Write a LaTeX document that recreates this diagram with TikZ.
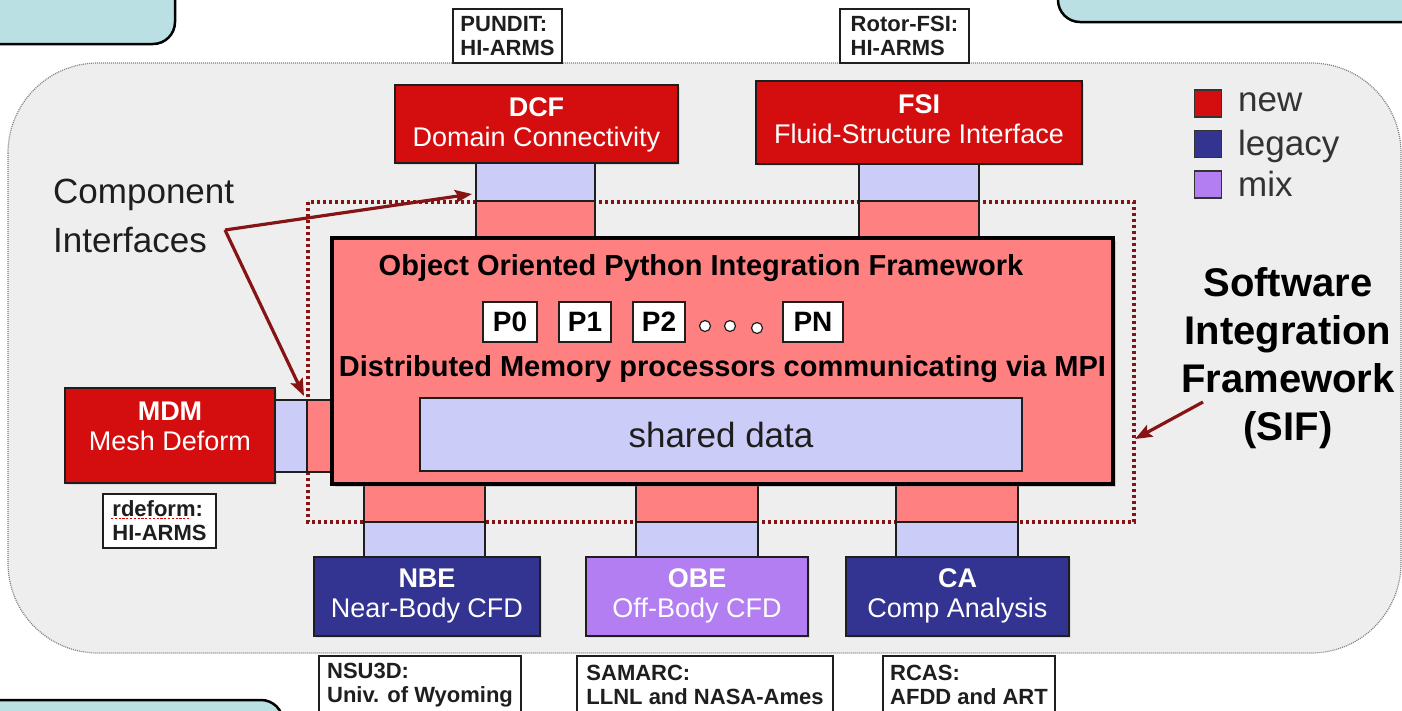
\documentclass[tikz,border=0pt]{standalone}
\usepackage{fontspec}
\setmainfont{Liberation Sans}
\usetikzlibrary{arrows.meta,shadows}

\definecolor{newred}{RGB}{212,14,14}
\definecolor{pinkif}{RGB}{255,128,128}
\definecolor{lavif}{RGB}{204,204,248}
\definecolor{legnavy}{RGB}{51,51,145}
\definecolor{mixpurple}{RGB}{178,126,242}
\definecolor{darkred}{RGB}{135,20,20}
\definecolor{panelgray}{RGB}{238,238,238}
\definecolor{notecyan}{RGB}{187,224,227}
\definecolor{inkgray}{RGB}{30,30,30}
\definecolor{softgray}{RGB}{51,51,51}

\newcommand\sz[2]{\fontsize{#1}{#2}\selectfont}

\begin{document}
\begin{tikzpicture}[x=1pt,y=-1pt,
  panel/.style={fill=panelgray, draw=gray, line width=1.2pt,
    dash pattern=on 1pt off 1pt, rounded corners=90pt},
  cornerbox/.style={fill=notecyan, draw=black, line width=2.5pt, rounded corners=22pt},
  comp/.style={draw=inkgray, line width=1.4pt, text=white, align=center, inner sep=0pt,
    font=\sz{27}{30}, drop shadow={shadow xshift=1.5pt, shadow yshift=-1.5pt, opacity=0.18}},
  newbox/.style={comp, fill=newred},
  legacybox/.style={comp, fill=legnavy},
  mixbox/.style={comp, fill=mixpurple},
  ifpart/.style={draw=inkgray, line width=1.3pt, inner sep=0pt},
  pinkpart/.style={ifpart, fill=pinkif},
  lavpart/.style={ifpart, fill=lavif},
  note/.style={draw=inkgray, fill=white, line width=1.4pt, align=left, inner sep=0pt,
    text=inkgray, font=\bfseries\sz{22}{24}},
  procbox/.style={draw=inkgray, fill=white, line width=1.4pt, inner sep=0pt,
    minimum height=40pt, text=black, font=\bfseries\sz{28}{30}},
  procdot/.style={draw=inkgray, fill=white, line width=1.2pt},
  swatch/.style={draw=softgray, line width=1.2pt, minimum size=27pt, inner sep=0pt},
  legtext/.style={anchor=base west, inner sep=0pt, text=softgray, font=\sz{35}{40}},
  pointer/.style={draw=darkred, line width=3.2pt,
    -{Stealth[length=17pt, width=13pt, inset=3pt]}},
  region/.style={draw=darkred, line width=3.6pt, dash pattern=on 3.4pt off 2.6pt}
]
\useasboundingbox (0,0) rectangle (1402,710);
\clip (0,0) rectangle (1402,710);
\fill[white] (0,0) rectangle (1402,710);

% cut-off callouts at the page corners
\draw[cornerbox] (-30,-60) rectangle (175,44);
\draw[cornerbox] (1058,-60) rectangle (1450,22);
\draw[cornerbox] (-30,700) rectangle (283,770);

% SIF panel
\draw[panel] (8,63) rectangle (1401,653);

% source labels above and below the panel
\node[note, minimum width=109pt, minimum height=54pt] (pundit) at (507.5,36) {PUNDIT:\\HI-ARMS};
\node[note, minimum width=129pt, minimum height=54pt] (rotor) at (904.5,36) {Rotor-FSI:\\HI-ARMS};
\node[note, minimum width=202pt, minimum height=58pt] (nsu) at (420,685) {NSU3D:\\Univ. of Wyoming};
\node[note, minimum width=256pt, minimum height=58pt] (samarc) at (705,685) {SAMARC:\\LLNL and NASA-Ames};
\node[note, minimum width=172pt, minimum height=58pt] (rcas) at (969,685) {RCAS:\\AFDD and ART};

% dotted boundary of the integration framework
\draw[region] (308,202) rectangle (1134,522);

% top components and their interfaces
\node[newbox, minimum width=283pt, minimum height=78pt, text depth=4pt] (dcf) at (536.5,124)
  {\textbf{DCF}\\Domain Connectivity};
\node[newbox, minimum width=326pt, minimum height=83pt, text depth=6pt] (fsi) at (919,122.5)
  {\textbf{FSI}\\Fluid-Structure Interface};
\node[lavpart, minimum width=119pt, minimum height=38pt] (dcfL) at (535.5,182) {};
\node[pinkpart, minimum width=119pt, minimum height=37pt] (dcfP) at (535.5,219.5) {};
\node[lavpart, minimum width=120pt, minimum height=37pt] (fsiL) at (919,182.5) {};
\node[pinkpart, minimum width=120pt, minimum height=37pt] (fsiP) at (919,219.5) {};

% left component
\node[newbox, minimum width=210pt, minimum height=95pt, text depth=18pt] (mdm) at (170,435.5)
  {\textbf{MDM}\\Mesh Deform};
\node[lavpart, minimum width=32pt, minimum height=72pt] (mdmL) at (291,436) {};
\node[pinkpart, minimum width=25pt, minimum height=72pt] (mdmP) at (319.5,436) {};
\node[note, minimum width=113pt, minimum height=54pt] (rdef) at (159.5,521) {rdeform:\\HI-ARMS};
\draw[red!85!black, line width=1.6pt, dash pattern=on 2.2pt off 1.6pt] (111,518.5) -- (189,518.5);

% bottom components and their interfaces
\node[pinkpart, minimum width=121pt, minimum height=38pt] (nbeP) at (424.5,503) {};
\node[lavpart, minimum width=121pt, minimum height=35pt] (nbeL) at (424.5,539.5) {};
\node[pinkpart, minimum width=122pt, minimum height=38pt] (obeP) at (697,503) {};
\node[lavpart, minimum width=122pt, minimum height=35pt] (obeL) at (697,539.5) {};
\node[pinkpart, minimum width=122pt, minimum height=38pt] (caP) at (957,503) {};
\node[lavpart, minimum width=122pt, minimum height=35pt] (caL) at (957,539.5) {};
\node[legacybox, minimum width=226pt, minimum height=79pt, text depth=6pt] (nbe) at (427,596.5)
  {\textbf{NBE}\\Near-Body CFD};
\node[mixbox, minimum width=222pt, minimum height=79pt, text depth=6pt] (obe) at (697,596.5)
  {\textbf{OBE}\\Off-Body CFD};
\node[legacybox, minimum width=223pt, minimum height=79pt, text depth=6pt] (ca) at (957.5,596.5)
  {\textbf{CA}\\Comp Analysis};

% central framework
\node[draw=black, fill=pinkif, line width=3.6pt, minimum width=781pt, minimum height=246pt,
  drop shadow={shadow xshift=3pt, shadow yshift=-3pt, opacity=0.3}] (oopif) at (722.5,361) {};
\node[anchor=base, inner sep=0pt, font=\bfseries\sz{29}{32}, text=black] (title) at (701,275)
  {Object Oriented Python Integration Framework};
\node[procbox, minimum width=54pt] (p0) at (510,322) {P0};
\node[procbox, minimum width=52pt] (p1) at (585,322) {P1};
\node[procbox, minimum width=52pt] (p2) at (659,322) {P2};
\node[procbox, minimum width=60pt] (pn) at (813,322) {PN};
\draw[procdot] (705,326) circle (5.5);
\draw[procdot] (730,326) circle (5.5);
\draw[procdot] (757,328) circle (5.5);
\node[anchor=base, inner sep=0pt, font=\bfseries\sz{29}{32}, text=black] (mpi) at (722.5,376)
  {Distributed Memory processors communicating via MPI};
\node[draw=inkgray, fill=lavif, line width=1.4pt, minimum width=602pt, minimum height=73pt,
  inner sep=0pt, text=inkgray, font=\sz{35}{40}] (shared) at (721,434.5) {shared data};

% legend
\node[swatch, fill=newred] (swnew) at (1208,103.5) {};
\node[swatch, fill=legnavy] (swleg) at (1208,144) {};
\node[swatch, fill=mixpurple] (swmix) at (1208,184.5) {};
\node[legtext] (tnew) at (1238,111) {new};
\node[legtext] (tleg) at (1238,155) {legacy};
\node[legtext] (tmix) at (1238,196) {mix};

% side captions
\node[align=center, inner sep=0pt, text=black, font=\bfseries\sz{40}{48}] (sif) at (1288,358)
  {Software\\Integration\\Framework\\(SIF)};
\node[align=left, anchor=west, inner sep=0pt, text=inkgray, font=\sz{35}{49}] (ci) at (53,216)
  {Component\\Interfaces};

% pointers
\coordinate (civ) at (225,230);
\coordinate (citop) at (472,194);
\coordinate (cilow) at (304,396);
\coordinate (sifs) at (1203,402);
\coordinate (sift) at (1135,439);
\draw[pointer] (civ) -- (citop);
\draw[pointer] (civ) -- (cilow);
\draw[pointer] (sifs) -- (sift);
\end{tikzpicture}
\end{document}
